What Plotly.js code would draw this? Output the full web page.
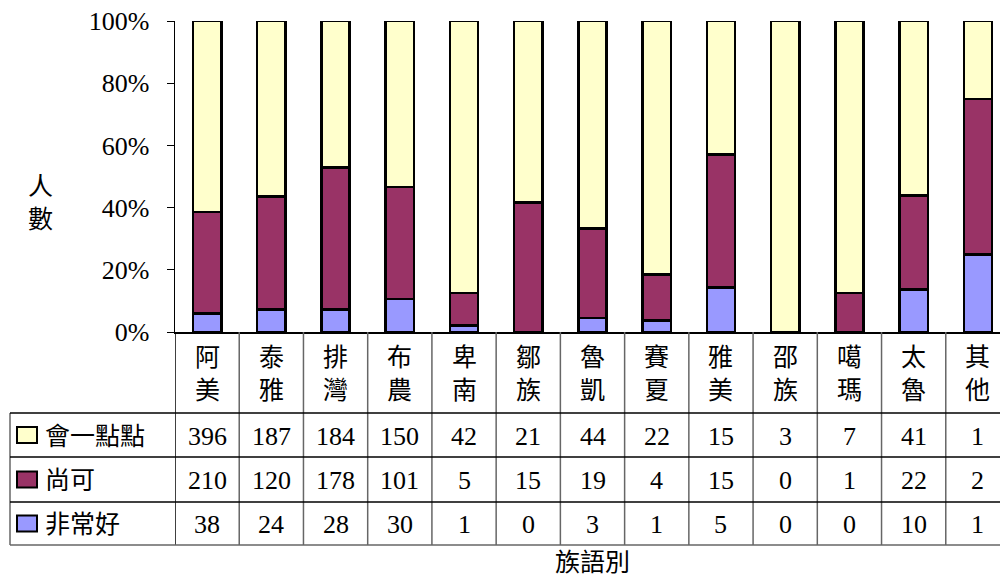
<!DOCTYPE html>
<html>
<head>
<meta charset="utf-8">
<script src="https://cdn.plot.ly/plotly-3.0.1.min.js"></script>
<style>
html,body{margin:0;padding:0;overflow:hidden;background:#fff;}
#chart{width:1010px;height:578px;}
</style>
</head>
<body>
<div id="chart"></div>
<script>
// ---- data ----
const categories = ['阿美','泰雅','排灣','布農','卑南','鄒族','魯凱','賽夏','雅美','邵族','噶瑪','太魯','其他'];
const seriesNames = ['會一點點','尚可','非常好'];
const aLittle = [396,187,184,150,42,21,44,22,15,3,7,41,1];
const soSo    = [210,120,178,101,5,15,19,4,15,0,1,22,2];
const veryGood= [38,24,28,30,1,0,3,1,5,0,0,10,1];
const yTicks = [0,20,40,60,80,100];
const yTitle = '人數';
const xTitle = '族語別';

const colors = {'會一點點':'#FFFFCC','尚可':'#993366','非常好':'#9999FF'};
const FONT = 'Liberation Serif, Times New Roman, Noto Sans CJK TC, serif';

// ---- geometry (pixels) ----
const W = 1010, H = 578;
const L = 175, T = 21, B = 332; // plot area
const plotH = B - T;
const plotW = W - L;
const py = p => (B - p) / plotH;   // pixel y -> paper y
const px = p => (p - L) / plotW;   // pixel x -> paper x

const rowTop = [413, 457, 502];
const rowBot = [457, 502, 545];
const rowVals = [aLittle, soSo, veryGood];

const xIdx = categories.map((_, i) => i);

const traces = [
  {name:'非常好', y: veryGood},
  {name:'尚可', y: soSo},
  {name:'會一點點', y: aLittle}
].map(s => ({
  type:'bar', x: xIdx, y: s.y, name: s.name,
  marker:{color: colors[s.name], line:{color:'#000', width:2.5}},
  hoverinfo:'skip'
}));

const shapes = [];
const annotations = [];
const lineBlack = {color:'#000', width:1.5};
const lineGray = {color:'#666', width:1.5};

// vertical lines of table at category boundaries
for (let i = 0; i <= categories.length; i++) {
  shapes.push({type:'line', xref:'x', yref:'paper', x0:i-0.5, x1:i-0.5, y0:py(332), y1:py(545), line: i===0 ? lineBlack : lineGray, layer:'above'});
}
// legend column left border
shapes.push({type:'line', xref:'paper', yref:'paper', x0:px(10), x1:px(10), y0:py(413), y1:py(545), line:lineGray});
// horizontal lines
[413, 457, 502].forEach(yy => shapes.push({type:'line', xref:'paper', yref:'paper', x0:px(10), x1:1, y0:py(yy), y1:py(yy), line:lineBlack}));
shapes.push({type:'line', xref:'paper', yref:'paper', x0:px(10), x1:1, y0:py(545), y1:py(545), line:lineGray});

// category labels (vertical)
categories.forEach((c, i) => {
  annotations.push({xref:'x', yref:'paper', x:i, y:py(374), text: c.split('').join('<br>'),
    showarrow:false, font:{family:FONT, size:25, color:'#000'}, xanchor:'center', yanchor:'middle'});
});

// table rows
seriesNames.forEach((name, r) => {
  const cy = (rowTop[r] + rowBot[r]) / 2;
  shapes.push({type:'rect', xref:'paper', yref:'paper', x0:px(17), x1:px(37), y0:py(cy-8), y1:py(cy+8),
    fillcolor: colors[name], line:{color:'#000', width:2}});
  annotations.push({xref:'paper', yref:'paper', x:px(43), y:py(cy+1), text:name, showarrow:false,
    xanchor:'left', yanchor:'middle', font:{family:FONT, size:25, color:'#000'}});
  rowVals[r].forEach((v, i) => {
    annotations.push({xref:'x', yref:'paper', x:i, y:py(cy+1), text:String(v), showarrow:false,
      xanchor:'center', yanchor:'middle', font:{family:FONT, size:26, color:'#000'}});
  });
});

// axis titles
annotations.push({xref:'paper', yref:'paper', x:px(40), y:py(203), text: yTitle.split('').join('<br>'), showarrow:false,
  xanchor:'center', yanchor:'middle', font:{family:FONT, size:25, color:'#000'}});
annotations.push({xref:'paper', yref:'paper', x:px(592), y:py(562), text:xTitle, showarrow:false,
  xanchor:'center', yanchor:'middle', font:{family:FONT, size:25, color:'#000'}});

const layout = {
  width: W, height: H,
  margin:{l:L, r:0, t:T, b:H-B, pad:0},
  paper_bgcolor:'#fff', plot_bgcolor:'#fff',
  barmode:'stack', barnorm:'percent', bargap:0.56,
  showlegend:false,
  font:{family:FONT, color:'#000'},
  xaxis:{range:[-0.5, categories.length-0.5], showticklabels:false, ticks:'', showgrid:false, zeroline:false,
    showline:true, linecolor:'#000', linewidth:1.5, fixedrange:true},
  yaxis:{range:[0,100], tickvals:yTicks, ticktext:yTicks.map(v=>v+'%'), ticks:'outside', ticklen:7, tickcolor:'#000',
    tickwidth:1, showgrid:false, zeroline:false, showline:true, linecolor:'#000', linewidth:1.5,
    tickfont:{family:FONT, size:26, color:'#000'}, ticklabelstandoff:12, fixedrange:true},
  shapes, annotations
};

Plotly.newPlot('chart', traces, layout, {staticPlot:true, displayModeBar:false});
</script>
</body>
</html>
